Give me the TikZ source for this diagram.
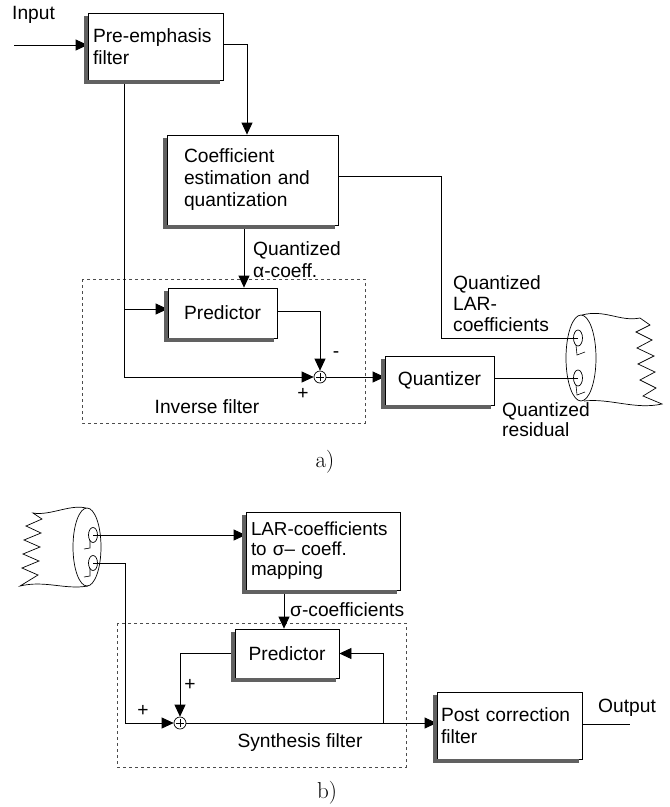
\documentclass[tikz,border=0pt]{standalone}
\usepackage{fontspec}
\setsansfont{Liberation Sans}
\usetikzlibrary{arrows.meta,calc}
\begin{document}
\begin{tikzpicture}[x=1pt,y=-1pt,
  every node/.style={font=\sffamily\fontsize{19.2}{22}\selectfont},
  blk/.style={draw, fill=white, line width=0.8pt, inner ysep=0pt},
  shl/.style={draw=black!62, line width=3.2pt},
  ln/.style={line width=0.8pt},
  arr/.style={ln, -{Triangle[length=12pt,width=11pt]}},
  sumc/.style={circle, draw, fill=white, minimum size=12pt, inner sep=0pt, line width=0.7pt,
     path picture={\draw[line width=0.5pt]
        ([xshift=-4pt]path picture bounding box.center) -- ([xshift=4pt]path picture bounding box.center)
        ([yshift=-4pt]path picture bounding box.center) -- ([yshift=4pt]path picture bounding box.center);}},
  dbox/.style={draw=black!70, dash pattern=on 3pt off 3pt, line width=0.8pt},
  lab/.style={inner sep=0pt},
  captxt/.style={inner sep=0pt, font=\rmfamily\fontsize{23}{24}\selectfont}
]
\useasboundingbox (0,0) rectangle (670,807);

% dashed frames
\draw[dbox] (82,279) rectangle (365,423);
\draw[dbox] (117,623) rectangle (406,767);

% ---------- part a ----------
\node[blk, align=left, minimum height=67pt, text width=125pt, inner xsep=5pt] (pre) at (155.5,46.5) {Pre-emphasis\\filter};
\node[blk, align=left, minimum height=90pt, text width=137pt, inner xsep=17pt] (coef) at (252.5,180) {Coefficient\\estimation and\\quantization};
\node[blk, minimum width=109pt, minimum height=50pt] (predA) at (222.5,313) {Predictor};
\node[blk, minimum width=109pt, minimum height=49pt] (quant) at (439.5,380.5) {Quantizer};
\node[sumc] (sumA) at (320,377) {};

\coordinate (in) at (14,45);
\draw[arr] (in) -- (in -| pre.west);
\coordinate (pc) at (247,44);
\draw[arr] (pre.east |- pc) -| (pc |- coef.north);
\coordinate (tapA) at (124,309);
\draw[arr] (pre.south -| tapA) |- (sumA.west);
\draw[arr] (tapA) -- (tapA -| predA.west);
\coordinate (qa) at (244,0);
\draw[arr] (coef.south -| qa) -- (predA.north -| qa);
\draw[arr] ([yshift=2pt]predA.east) -| (sumA.north);
\draw[arr] (sumA.east) -- (sumA.east -| quant.west);

\coordinate (pinA1) at (578,338);
\coordinate (pinA2) at (578,378);
\coordinate (lr) at (441,176);
\draw[ln] ([yshift=4pt]coef.east) -| (lr |- pinA1) -- (pinA1);
\draw[ln] (quant.east |- pinA2) -- (pinA2);

% cable a
\draw[line width=0.7pt] (581,358) ellipse [x radius=15pt, y radius=43pt];
\draw[line width=0.7pt] (pinA1) ellipse [x radius=4.5pt, y radius=8pt];
\draw[line width=0.7pt] (pinA2) ellipse [x radius=4.5pt, y radius=8pt];
\draw[line width=0.6pt] (576,345) -- (577,355) -- (585,352);
\draw[line width=0.6pt] (576,385) -- (577,395) -- (585,392);
\draw[line width=0.7pt] (582,315) .. controls (605,309) and (620,322) .. (640,318)
  -- (650,325) -- (636,332) -- (652,340) -- (637,348) -- (654,356) -- (638,364)
  -- (655,372) -- (640,380) -- (656,388) -- (643,396) -- (662,404)
  .. controls (635,410) and (610,398) .. (584,401);

\node[lab, anchor=west] (tin) at (12,15) {Input};
\node[lab, anchor=west, align=left] (tqa) at (253,260) {Quantized\\α-coeff.};
\node[lab] (tminus) at (336,355) {-};
\node[lab] (tplusA) at (303,394) {+};
\node[lab] (tinv) at (207,407) {Inverse filter};
\node[lab, anchor=west, align=left, font=\sffamily\fontsize{19.2}{21}\selectfont] (tlar) at (453,304) {Quantized\\LAR-\\coefficients};
\node[lab, anchor=west, align=left, font=\sffamily\fontsize{19.2}{20}\selectfont] (tres) at (502,420) {Quantized\\residual};
\node[captxt] (ta) at (325,462) {a)};

% ---------- part b ----------
\node[blk, align=left, minimum height=78pt, text width=150pt, inner xsep=2pt, font=\sffamily\fontsize{18.8}{20}\selectfont] (lar) at (323,551) {\hspace*{3pt}LAR-coefficients\\\hspace*{3pt}to σ– coeff.\\\hspace*{3pt}mapping};
\node[blk, minimum width=104pt, minimum height=49pt] (predB) at (287,653.5) {Predictor};
\node[blk, align=left, minimum height=67pt, text width=137pt, inner xsep=4pt] (post) at (509.5,725.5) {Post correction\\filter};
\node[sumc] (sumB) at (180,723) {};

\coordinate (pinB1) at (93,535);
\coordinate (pinB2) at (93,563);
\draw[arr] (pinB1) -- (pinB1 -| lar.west);
\coordinate (tapB) at (125,563);
\draw[arr] (pinB2) -- (tapB) |- (sumB.west);
\coordinate (qb) at (284,0);
\draw[arr] (lar.south -| qb) -- (predB.north -| qb);
\draw[arr] (predB.west) -| (sumB.north);
\draw[arr] (sumB.east) -- (sumB.east -| post.west);
\coordinate (fb) at (383,723);
\draw[arr] (fb) |- (predB.east);
\coordinate (out) at (630,724);
\draw[ln] (post.east |- out) -- (out);

% box shadows: dark strip along left and bottom
\foreach \nn in {pre,coef,predA,quant,lar,predB,post}
  \draw[shl] ($(\nn.north west)+(-1.6,3.2)$) -- ($(\nn.south west)+(-1.6,1.6)$) -- ($(\nn.south east)+(-3.2,1.6)$);

% cable b
\draw[line width=0.7pt] (87,547) ellipse [x radius=14pt, y radius=39pt];
\draw[line width=0.7pt] (pinB1) ellipse [x radius=4.5pt, y radius=7.5pt];
\draw[line width=0.7pt] (pinB2) ellipse [x radius=4.5pt, y radius=7.5pt];
\draw[line width=0.6pt] (84,549) -- (90,548) -- (90,540);
\draw[line width=0.6pt] (84,577) -- (90,576) -- (90,568);
\draw[line width=0.7pt] (86,508) .. controls (70,504) and (50,516) .. (33,513)
  -- (42,519) -- (26,526) -- (41,533) -- (24,540) -- (40,547) -- (23,554)
  -- (39,561) -- (22,568) -- (38,575) -- (20,586)
  .. controls (45,580) and (65,590) .. (88,586);

\node[lab, anchor=west] (tsig) at (290,610) {σ-coefficients};
\node[lab] (tplusB1) at (190,685) {+};
\node[lab] (tplusB2) at (143,711) {+};
\node[lab] (tsyn) at (300,743) {Synthesis filter};
\node[lab, anchor=west] (tout) at (598,708) {Output};
\node[captxt] (tb) at (327,793) {b)};
\end{tikzpicture}
\end{document}
